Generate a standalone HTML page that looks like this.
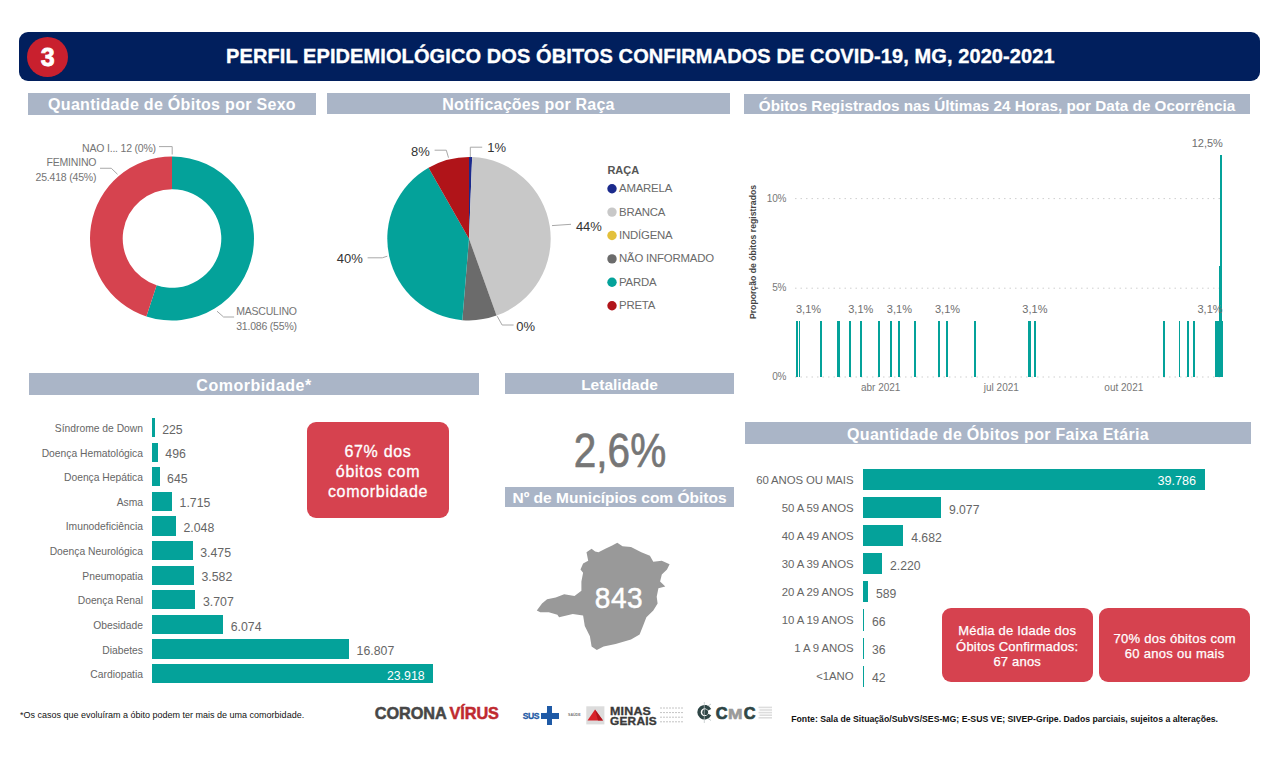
<!DOCTYPE html>
<html><head><meta charset="utf-8">
<style>
*{margin:0;padding:0;box-sizing:border-box}
html,body{width:1280px;height:759px;background:#fff;overflow:hidden;font-family:"Liberation Sans",sans-serif}
.a{position:absolute;white-space:nowrap}
svg{position:absolute;left:0;top:0}
</style></head><body>
<svg width="1280" height="759"><path d="M172.00,156.50 A82,82 0 1 1 146.39,316.40 L156.60,285.33 A49.3,49.3 0 1 0 172.00,189.20 Z" fill="#04a29a" /><path d="M146.39,316.40 A82,82 0 0 1 172.00,156.50 L172.00,189.20 A49.3,49.3 0 0 0 156.60,285.33 Z" fill="#d6434f" /><polyline points="159,146.6 172.2,146.6 172.2,154.5" fill="none" stroke="#a8a8a8" stroke-width="1"/><polyline points="100,168.25 111.25,168.25 117.5,174.25" fill="none" stroke="#a8a8a8" stroke-width="1"/><polyline points="217,311.2 223.6,317 234.1,317" fill="none" stroke="#a8a8a8" stroke-width="1"/><path d="M469,238.7 L469.00,157.00 A81.7,81.7 0 0 1 472.14,157.06 Z" fill="#1b2a8c" /><path d="M469,238.7 L472.14,157.06 A81.7,81.7 0 0 1 496.54,315.62 Z" fill="#c8c8c8" /><path d="M469,238.7 L496.54,315.62 A81.7,81.7 0 0 1 462.31,320.13 Z" fill="#6b6b6b" /><path d="M469,238.7 L462.31,320.13 A81.7,81.7 0 0 1 428.52,167.73 Z" fill="#04a29a" /><path d="M469,238.7 L428.52,167.73 A81.7,81.7 0 0 1 469.00,157.00 Z" fill="#b01419" /><polyline points="434.6,150.2 446.3,150.2 448.5,157.7" fill="none" stroke="#a8a8a8" stroke-width="1"/><polyline points="470.3,157.1 470.3,147.2 482.2,147.2" fill="none" stroke="#a8a8a8" stroke-width="1"/><polyline points="552,225.6 571,224.3" fill="none" stroke="#a8a8a8" stroke-width="1"/><polyline points="367.6,257.8 382.3,257.8 387.3,256.2" fill="none" stroke="#a8a8a8" stroke-width="1"/><polyline points="497.2,316.2 502.1,325 513.6,325" fill="none" stroke="#a8a8a8" stroke-width="1"/><circle cx="612" cy="188.70" r="4.7" fill="#1b2a8c"/><circle cx="612" cy="212.10" r="4.7" fill="#c8c8c8"/><circle cx="612" cy="235.50" r="4.7" fill="#e3c03a"/><circle cx="612" cy="258.90" r="4.7" fill="#6b6b6b"/><circle cx="612" cy="282.30" r="4.7" fill="#04a29a"/><circle cx="612" cy="305.70" r="4.7" fill="#b01419"/><line x1="795" y1="377" x2="1222" y2="377" stroke="#cfcfcf" stroke-width="1" stroke-dasharray="1.5,4"/><line x1="795" y1="288.2" x2="1222" y2="288.2" stroke="#cfcfcf" stroke-width="1" stroke-dasharray="1.5,4"/><line x1="795" y1="198.6" x2="1222" y2="198.6" stroke="#cfcfcf" stroke-width="1" stroke-dasharray="1.5,4"/><polygon points="617.3,542.8 622.5,546.3 631,547.1 641.3,552.3 649.9,555.7 653.3,561.7 661.8,560.8 669.6,564.2 667,569.4 661.8,574.5 660.1,581.4 665.3,586.5 658.4,588.2 656.7,596.8 657.6,603.6 653.3,610.5 646.4,617.3 643,625.9 639.6,634.5 631,639.6 615.6,643.9 603.6,646.4 596.8,649.9 591.6,646.4 589.9,636.2 584.8,625.9 583.1,615.6 572.8,613.9 559.1,617.3 557.4,614.8 548.8,612.2 540.3,612.2 536.8,610.5 542,603.6 547.1,599.3 555.7,597.6 564.2,594.2 574.5,595.9 581.4,590.8 581.4,581.4 583.1,572.8 580.5,569.4 583.1,563.4 588.2,560.8 586.5,552.3 591.6,548.8 595.1,551.4 598.5,552.3 605.3,548.8 612.2,545.4" fill="#999999"/><line x1="546" y1="712.5" x2="553" y2="718.8" stroke="#7aa0d0" stroke-width="0.6"/><rect x="586.3" y="706.3" width="18.1" height="18.1" fill="#dcdcdc"/><polygon points="595,709.4 603,720.5 587.5,720.5" fill="#d8232a"/><polygon points="595,709.4 603,720.5 598,720.5" fill="#b0141c"/><line x1="660" y1="708.0" x2="683" y2="708.0" stroke="#c4c4c4" stroke-width="1" stroke-dasharray="2,1"/><line x1="660" y1="712.6" x2="683" y2="712.6" stroke="#c4c4c4" stroke-width="1" stroke-dasharray="2,1"/><line x1="660" y1="717.2" x2="683" y2="717.2" stroke="#c4c4c4" stroke-width="1" stroke-dasharray="2,1"/><line x1="660" y1="721.8" x2="683" y2="721.8" stroke="#c4c4c4" stroke-width="1" stroke-dasharray="2,1"/><path d="M709.68,714.57 A5.6,5.6 0 1 1 709.68,709.83" fill="none" stroke="#2f4646" stroke-width="3.4"/><circle cx="705.2" cy="712.2" r="2.9" fill="#2f4646"/><line x1="704.3" y1="702" x2="704.3" y2="723" stroke="#b8c0c0" stroke-width="0.7"/><line x1="708" y1="706" x2="711" y2="704" stroke="#9aa" stroke-width="0.6"/><line x1="708" y1="718.5" x2="711" y2="720.5" stroke="#9aa" stroke-width="0.6"/><line x1="758.5" y1="707.4" x2="772" y2="707.4" stroke="#dddddd" stroke-width="1.6"/><line x1="759.5" y1="710.0" x2="772" y2="710.0" stroke="#dddddd" stroke-width="1.6"/><line x1="758.5" y1="712.6" x2="772" y2="712.6" stroke="#dddddd" stroke-width="1.6"/><line x1="759.5" y1="715.1999999999999" x2="772" y2="715.1999999999999" stroke="#dddddd" stroke-width="1.6"/><line x1="758.5" y1="717.8" x2="772" y2="717.8" stroke="#dddddd" stroke-width="1.6"/></svg>
<div class="a" style="left:19.00px;top:32.00px;width:1241.00px;height:48.50px;background:#011f5d;border-radius:9px"></div>
<div class="a" style="left:27px;top:37px;width:41px;height:40px;border-radius:50%;background:#c9202e"></div>
<div class="a" style="top:45.14px;font-size:25px;line-height:1;color:#fff;font-weight:700;left:-252.25px;width:600px;text-align:center;-webkit-text-stroke:0.8px #fff;">3</div>
<div class="a" style="top:46.07px;font-size:20px;line-height:1;color:#fff;font-weight:700;letter-spacing:0.1px;left:226.00px;-webkit-text-stroke:0.35px #fff;">PERFIL EPIDEMIOLÓGICO DOS ÓBITOS CONFIRMADOS DE COVID-19, MG, 2020-2021</div>
<div class="a" style="left:28.00px;top:92.50px;width:288.00px;height:22.50px;background:#aab5c7;"></div>
<div class="a" style="top:96.96px;font-size:16px;line-height:1;color:#fff;font-weight:700;letter-spacing:0.3px;left:-128.00px;width:600px;text-align:center;">Quantidade de Óbitos por Sexo</div>
<div class="a" style="left:327.00px;top:92.80px;width:403.00px;height:21.70px;background:#aab5c7;"></div>
<div class="a" style="top:96.96px;font-size:16px;line-height:1;color:#fff;font-weight:700;letter-spacing:0.2px;left:228.50px;width:600px;text-align:center;">Notificações por Raça</div>
<div class="a" style="left:744.00px;top:94.00px;width:506.00px;height:20.00px;background:#aab5c7;"></div>
<div class="a" style="top:97.79px;font-size:15.25px;line-height:1;color:#fff;font-weight:700;left:697.00px;width:600px;text-align:center;">Óbitos Registrados nas Últimas 24 Horas, por Data de Ocorrência</div>
<div class="a" style="left:29.00px;top:373.00px;width:450.00px;height:22.30px;background:#aab5c7;"></div>
<div class="a" style="top:377.76px;font-size:16px;line-height:1;color:#fff;font-weight:700;letter-spacing:0.5px;left:-46.00px;width:600px;text-align:center;">Comorbidade*</div>
<div class="a" style="left:505.00px;top:373.00px;width:229.00px;height:20.50px;background:#aab5c7;"></div>
<div class="a" style="top:376.68px;font-size:15.5px;line-height:1;color:#fff;font-weight:700;left:319.50px;width:600px;text-align:center;">Letalidade</div>
<div class="a" style="left:505.00px;top:487.00px;width:229.00px;height:19.50px;background:#aab5c7;"></div>
<div class="a" style="top:490.48px;font-size:15.5px;line-height:1;color:#fff;font-weight:700;left:319.50px;width:600px;text-align:center;">Nº de Municípios com Óbitos</div>
<div class="a" style="left:745.00px;top:422.00px;width:506.00px;height:22.20px;background:#aab5c7;"></div>
<div class="a" style="top:427.46px;font-size:16px;line-height:1;color:#fff;font-weight:700;letter-spacing:0.3px;left:698.00px;width:600px;text-align:center;">Quantidade de Óbitos por Faixa Etária</div>
<div class="a" style="top:143.01px;font-size:10.5px;line-height:1;color:#747474;font-weight:400;letter-spacing:-0.2px;right:1124.10px;">NAO I... 12 (0%)</div>
<div class="a" style="top:157.36px;font-size:10.5px;line-height:1;color:#747474;font-weight:400;letter-spacing:-0.2px;right:1183.75px;">FEMININO</div>
<div class="a" style="top:172.36px;font-size:10.5px;line-height:1;color:#747474;font-weight:400;letter-spacing:-0.2px;right:1183.75px;">25.418 (45%)</div>
<div class="a" style="top:306.31px;font-size:10.5px;line-height:1;color:#747474;font-weight:400;letter-spacing:-0.2px;left:236.20px;">MASCULINO</div>
<div class="a" style="top:320.81px;font-size:10.5px;line-height:1;color:#747474;font-weight:400;letter-spacing:-0.2px;left:236.20px;">31.086 (55%)</div>
<div class="a" style="top:144.50px;font-size:13px;line-height:1;color:#333333;font-weight:400;right:850.30px;">8%</div>
<div class="a" style="top:141.10px;font-size:13px;line-height:1;color:#333333;font-weight:400;left:487.20px;">1%</div>
<div class="a" style="top:219.90px;font-size:13px;line-height:1;color:#333333;font-weight:400;left:575.90px;">44%</div>
<div class="a" style="top:252.40px;font-size:13px;line-height:1;color:#333333;font-weight:400;right:917.30px;">40%</div>
<div class="a" style="top:320.00px;font-size:13px;line-height:1;color:#333333;font-weight:400;left:516.20px;">0%</div>
<div class="a" style="top:164.79px;font-size:11px;line-height:1;color:#555;font-weight:700;left:607.40px;">RAÇA</div>
<div class="a" style="top:183.25px;font-size:11.4px;line-height:1;color:#6a6a6a;font-weight:400;letter-spacing:-0.2px;left:619.00px;">AMARELA</div>
<div class="a" style="top:206.65px;font-size:11.4px;line-height:1;color:#6a6a6a;font-weight:400;letter-spacing:-0.2px;left:619.00px;">BRANCA</div>
<div class="a" style="top:230.05px;font-size:11.4px;line-height:1;color:#6a6a6a;font-weight:400;letter-spacing:-0.2px;left:619.00px;">INDÍGENA</div>
<div class="a" style="top:253.45px;font-size:11.4px;line-height:1;color:#6a6a6a;font-weight:400;letter-spacing:-0.2px;left:619.00px;">NÃO INFORMADO</div>
<div class="a" style="top:276.85px;font-size:11.4px;line-height:1;color:#6a6a6a;font-weight:400;letter-spacing:-0.2px;left:619.00px;">PARDA</div>
<div class="a" style="top:300.25px;font-size:11.4px;line-height:1;color:#6a6a6a;font-weight:400;letter-spacing:-0.2px;left:619.00px;">PRETA</div>
<div class="a" style="top:372.14px;font-size:10px;line-height:1;color:#777777;font-weight:400;letter-spacing:-0.2px;right:493.80px;">0%</div>
<div class="a" style="top:283.34px;font-size:10px;line-height:1;color:#777777;font-weight:400;letter-spacing:-0.2px;right:493.80px;">5%</div>
<div class="a" style="top:193.73px;font-size:10px;line-height:1;color:#777777;font-weight:400;letter-spacing:-0.2px;right:493.80px;">10%</div>
<div class="a" style="left:752.5px;top:251.7px;font-size:8.7px;line-height:1;color:#444;font-weight:700;transform:translate(-50%,-50%) rotate(-90deg);">Proporção de óbitos registrados</div>
<div class="a" style="left:796.05px;top:321.00px;width:1.70px;height:56.00px;background:#04a29a;"></div>
<div class="a" style="left:798.65px;top:321.00px;width:1.70px;height:56.00px;background:#04a29a;"></div>
<div class="a" style="left:819.85px;top:321.00px;width:1.70px;height:56.00px;background:#04a29a;"></div>
<div class="a" style="left:849.15px;top:321.00px;width:1.70px;height:56.00px;background:#04a29a;"></div>
<div class="a" style="left:859.95px;top:321.00px;width:1.70px;height:56.00px;background:#04a29a;"></div>
<div class="a" style="left:878.35px;top:321.00px;width:1.70px;height:56.00px;background:#04a29a;"></div>
<div class="a" style="left:890.25px;top:321.00px;width:1.70px;height:56.00px;background:#04a29a;"></div>
<div class="a" style="left:898.25px;top:321.00px;width:1.70px;height:56.00px;background:#04a29a;"></div>
<div class="a" style="left:914.35px;top:321.00px;width:1.70px;height:56.00px;background:#04a29a;"></div>
<div class="a" style="left:938.05px;top:321.00px;width:1.70px;height:56.00px;background:#04a29a;"></div>
<div class="a" style="left:946.35px;top:321.00px;width:1.70px;height:56.00px;background:#04a29a;"></div>
<div class="a" style="left:974.05px;top:321.00px;width:1.70px;height:56.00px;background:#04a29a;"></div>
<div class="a" style="left:1034.05px;top:321.00px;width:1.70px;height:56.00px;background:#04a29a;"></div>
<div class="a" style="left:1162.95px;top:321.00px;width:1.70px;height:56.00px;background:#04a29a;"></div>
<div class="a" style="left:1178.65px;top:321.00px;width:1.70px;height:56.00px;background:#04a29a;"></div>
<div class="a" style="left:1186.95px;top:321.00px;width:1.70px;height:56.00px;background:#04a29a;"></div>
<div class="a" style="left:1193.45px;top:321.00px;width:1.70px;height:56.00px;background:#04a29a;"></div>
<div class="a" style="left:837.00px;top:321.00px;width:3.00px;height:56.00px;background:#04a29a;"></div>
<div class="a" style="left:1028.00px;top:321.00px;width:3.00px;height:56.00px;background:#04a29a;"></div>
<div class="a" style="left:1215.00px;top:321.00px;width:8.00px;height:56.00px;background:#04a29a;"></div>
<div class="a" style="left:1219.00px;top:266.00px;width:2.00px;height:111.00px;background:#04a29a;"></div>
<div class="a" style="left:1220.00px;top:155.00px;width:2.00px;height:222.00px;background:#04a29a;"></div>
<div class="a" style="top:304.44px;font-size:11px;line-height:1;color:#6e6e6e;font-weight:400;left:508.50px;width:600px;text-align:center;">3,1%</div>
<div class="a" style="top:304.44px;font-size:11px;line-height:1;color:#6e6e6e;font-weight:400;left:560.80px;width:600px;text-align:center;">3,1%</div>
<div class="a" style="top:304.44px;font-size:11px;line-height:1;color:#6e6e6e;font-weight:400;left:599.40px;width:600px;text-align:center;">3,1%</div>
<div class="a" style="top:304.44px;font-size:11px;line-height:1;color:#6e6e6e;font-weight:400;left:647.50px;width:600px;text-align:center;">3,1%</div>
<div class="a" style="top:304.44px;font-size:11px;line-height:1;color:#6e6e6e;font-weight:400;left:734.90px;width:600px;text-align:center;">3,1%</div>
<div class="a" style="top:304.44px;font-size:11px;line-height:1;color:#6e6e6e;font-weight:400;left:910.00px;width:600px;text-align:center;">3,1%</div>
<div class="a" style="top:138.29px;font-size:11px;line-height:1;color:#6e6e6e;font-weight:400;left:907.30px;width:600px;text-align:center;">12,5%</div>
<div class="a" style="top:383.04px;font-size:10px;line-height:1;color:#777777;font-weight:400;left:580.70px;width:600px;text-align:center;">abr 2021</div>
<div class="a" style="top:383.04px;font-size:10px;line-height:1;color:#777777;font-weight:400;left:701.30px;width:600px;text-align:center;">jul 2021</div>
<div class="a" style="top:383.04px;font-size:10px;line-height:1;color:#777777;font-weight:400;left:823.80px;width:600px;text-align:center;">out 2021</div>
<div class="a" style="left:152.00px;top:417.90px;width:2.64px;height:19.20px;background:#04a29a;"></div>
<div class="a" style="top:423.98px;font-size:10.3px;line-height:1;color:#666;font-weight:400;right:1137.00px;">Síndrome de Down</div>
<div class="a" style="top:423.59px;font-size:12.3px;line-height:1;color:#666;font-weight:400;left:162.14px;">225</div>
<div class="a" style="left:152.00px;top:442.52px;width:5.82px;height:19.20px;background:#04a29a;"></div>
<div class="a" style="top:448.60px;font-size:10.3px;line-height:1;color:#666;font-weight:400;right:1137.00px;">Doença Hematológica</div>
<div class="a" style="top:448.21px;font-size:12.3px;line-height:1;color:#666;font-weight:400;left:165.32px;">496</div>
<div class="a" style="left:152.00px;top:467.14px;width:7.56px;height:19.20px;background:#04a29a;"></div>
<div class="a" style="top:473.22px;font-size:10.3px;line-height:1;color:#666;font-weight:400;right:1137.00px;">Doença Hepática</div>
<div class="a" style="top:472.83px;font-size:12.3px;line-height:1;color:#666;font-weight:400;left:167.06px;">645</div>
<div class="a" style="left:152.00px;top:491.76px;width:20.11px;height:19.20px;background:#04a29a;"></div>
<div class="a" style="top:497.84px;font-size:10.3px;line-height:1;color:#666;font-weight:400;right:1137.00px;">Asma</div>
<div class="a" style="top:497.45px;font-size:12.3px;line-height:1;color:#666;font-weight:400;left:179.61px;">1.715</div>
<div class="a" style="left:152.00px;top:516.38px;width:24.02px;height:19.20px;background:#04a29a;"></div>
<div class="a" style="top:522.46px;font-size:10.3px;line-height:1;color:#666;font-weight:400;right:1137.00px;">Imunodeficiência</div>
<div class="a" style="top:522.07px;font-size:12.3px;line-height:1;color:#666;font-weight:400;left:183.52px;">2.048</div>
<div class="a" style="left:152.00px;top:541.00px;width:40.75px;height:19.20px;background:#04a29a;"></div>
<div class="a" style="top:547.08px;font-size:10.3px;line-height:1;color:#666;font-weight:400;right:1137.00px;">Doença Neurológica</div>
<div class="a" style="top:546.69px;font-size:12.3px;line-height:1;color:#666;font-weight:400;left:200.25px;">3.475</div>
<div class="a" style="left:152.00px;top:565.62px;width:42.01px;height:19.20px;background:#04a29a;"></div>
<div class="a" style="top:571.70px;font-size:10.3px;line-height:1;color:#666;font-weight:400;right:1137.00px;">Pneumopatia</div>
<div class="a" style="top:571.31px;font-size:12.3px;line-height:1;color:#666;font-weight:400;left:201.51px;">3.582</div>
<div class="a" style="left:152.00px;top:590.24px;width:43.47px;height:19.20px;background:#04a29a;"></div>
<div class="a" style="top:596.32px;font-size:10.3px;line-height:1;color:#666;font-weight:400;right:1137.00px;">Doença Renal</div>
<div class="a" style="top:595.93px;font-size:12.3px;line-height:1;color:#666;font-weight:400;left:202.97px;">3.707</div>
<div class="a" style="left:152.00px;top:614.86px;width:71.23px;height:19.20px;background:#04a29a;"></div>
<div class="a" style="top:620.94px;font-size:10.3px;line-height:1;color:#666;font-weight:400;right:1137.00px;">Obesidade</div>
<div class="a" style="top:620.55px;font-size:12.3px;line-height:1;color:#666;font-weight:400;left:230.73px;">6.074</div>
<div class="a" style="left:152.00px;top:639.48px;width:197.11px;height:19.20px;background:#04a29a;"></div>
<div class="a" style="top:645.56px;font-size:10.3px;line-height:1;color:#666;font-weight:400;right:1137.00px;">Diabetes</div>
<div class="a" style="top:645.17px;font-size:12.3px;line-height:1;color:#666;font-weight:400;left:356.61px;">16.807</div>
<div class="a" style="left:152.00px;top:664.10px;width:280.50px;height:19.20px;background:#04a29a;"></div>
<div class="a" style="top:670.18px;font-size:10.3px;line-height:1;color:#666;font-weight:400;right:1137.00px;">Cardiopatia</div>
<div class="a" style="top:669.79px;font-size:12.3px;line-height:1;color:#fff;font-weight:400;right:855.40px;">23.918</div>
<div class="a" style="left:307.00px;top:422.30px;width:142.00px;height:95.30px;background:#d6424f;border-radius:9px"></div>
<div class="a" style="top:443.96px;font-size:16px;line-height:1;color:#fff;font-weight:400;letter-spacing:0.7px;left:78.00px;width:600px;text-align:center;-webkit-text-stroke:0.3px #fff;">67% dos</div>
<div class="a" style="top:464.16px;font-size:16px;line-height:1;color:#fff;font-weight:400;letter-spacing:0.7px;left:78.00px;width:600px;text-align:center;-webkit-text-stroke:0.3px #fff;">óbitos com</div>
<div class="a" style="top:484.36px;font-size:16px;line-height:1;color:#fff;font-weight:400;letter-spacing:0.7px;left:78.00px;width:600px;text-align:center;-webkit-text-stroke:0.3px #fff;">comorbidade</div>
<div class="a" style="top:426.24px;font-size:48.5px;line-height:1;color:#767676;font-weight:400;left:319.50px;width:600px;text-align:center;transform:scaleX(0.835);-webkit-text-stroke:0.7px #767676;">2,6%</div>
<div class="a" style="top:582.93px;font-size:29.5px;line-height:1;color:#fff;font-weight:400;letter-spacing:0.6px;left:319.00px;width:600px;text-align:center;-webkit-text-stroke:0.5px #fff;transform:scaleX(0.95);">843</div>
<div class="a" style="left:863.00px;top:468.90px;width:341.60px;height:21.20px;background:#04a29a;"></div>
<div class="a" style="top:474.55px;font-size:11.4px;line-height:1;color:#666;font-weight:400;letter-spacing:-0.1px;right:426.60px;">60 ANOS OU MAIS</div>
<div class="a" style="top:474.73px;font-size:12.6px;line-height:1;color:#fff;font-weight:400;right:84.00px;">39.786</div>
<div class="a" style="left:863.00px;top:497.00px;width:77.93px;height:21.20px;background:#04a29a;"></div>
<div class="a" style="top:502.65px;font-size:11.4px;line-height:1;color:#666;font-weight:400;letter-spacing:-0.1px;right:426.60px;">50 A 59 ANOS</div>
<div class="a" style="top:503.67px;font-size:12.2px;line-height:1;color:#666;font-weight:400;left:948.93px;">9.077</div>
<div class="a" style="left:863.00px;top:525.10px;width:40.20px;height:21.20px;background:#04a29a;"></div>
<div class="a" style="top:530.75px;font-size:11.4px;line-height:1;color:#666;font-weight:400;letter-spacing:-0.1px;right:426.60px;">40 A 49 ANOS</div>
<div class="a" style="top:531.77px;font-size:12.2px;line-height:1;color:#666;font-weight:400;left:911.20px;">4.682</div>
<div class="a" style="left:863.00px;top:553.20px;width:19.06px;height:21.20px;background:#04a29a;"></div>
<div class="a" style="top:558.85px;font-size:11.4px;line-height:1;color:#666;font-weight:400;letter-spacing:-0.1px;right:426.60px;">30 A 39 ANOS</div>
<div class="a" style="top:559.87px;font-size:12.2px;line-height:1;color:#666;font-weight:400;left:890.06px;">2.220</div>
<div class="a" style="left:863.00px;top:581.30px;width:5.06px;height:21.20px;background:#04a29a;"></div>
<div class="a" style="top:586.95px;font-size:11.4px;line-height:1;color:#666;font-weight:400;letter-spacing:-0.1px;right:426.60px;">20 A 29 ANOS</div>
<div class="a" style="top:587.97px;font-size:12.2px;line-height:1;color:#666;font-weight:400;left:876.06px;">589</div>
<div class="a" style="left:863.00px;top:609.40px;width:1.10px;height:21.20px;background:#04a29a;"></div>
<div class="a" style="top:615.05px;font-size:11.4px;line-height:1;color:#666;font-weight:400;letter-spacing:-0.1px;right:426.60px;">10 A 19 ANOS</div>
<div class="a" style="top:616.07px;font-size:12.2px;line-height:1;color:#666;font-weight:400;left:872.10px;">66</div>
<div class="a" style="left:863.00px;top:637.50px;width:1.10px;height:21.20px;background:#04a29a;"></div>
<div class="a" style="top:643.15px;font-size:11.4px;line-height:1;color:#666;font-weight:400;letter-spacing:-0.1px;right:426.60px;">1 A 9 ANOS</div>
<div class="a" style="top:644.17px;font-size:12.2px;line-height:1;color:#666;font-weight:400;left:872.10px;">36</div>
<div class="a" style="left:863.00px;top:665.60px;width:1.10px;height:21.20px;background:#04a29a;"></div>
<div class="a" style="top:671.25px;font-size:11.4px;line-height:1;color:#666;font-weight:400;letter-spacing:-0.1px;right:426.60px;">&lt;1ANO</div>
<div class="a" style="top:672.27px;font-size:12.2px;line-height:1;color:#666;font-weight:400;left:872.10px;">42</div>
<div class="a" style="left:941.60px;top:607.90px;width:151.30px;height:74.20px;background:#d6424f;border-radius:9px"></div>
<div class="a" style="left:1098.90px;top:607.90px;width:151.50px;height:74.20px;background:#d6424f;border-radius:9px"></div>
<div class="a" style="top:624.00px;font-size:13px;line-height:1;color:#fff;font-weight:400;letter-spacing:0.2px;left:717.25px;width:600px;text-align:center;-webkit-text-stroke:0.25px #fff;">Média de Idade dos</div>
<div class="a" style="top:639.50px;font-size:13px;line-height:1;color:#fff;font-weight:400;letter-spacing:0.2px;left:717.25px;width:600px;text-align:center;-webkit-text-stroke:0.25px #fff;">Óbitos Confirmados:</div>
<div class="a" style="top:655.00px;font-size:13px;line-height:1;color:#fff;font-weight:400;letter-spacing:0.2px;left:717.25px;width:600px;text-align:center;-webkit-text-stroke:0.25px #fff;">67 anos</div>
<div class="a" style="top:631.70px;font-size:13px;line-height:1;color:#fff;font-weight:400;letter-spacing:0.3px;left:874.65px;width:600px;text-align:center;-webkit-text-stroke:0.25px #fff;">70% dos óbitos com</div>
<div class="a" style="top:647.20px;font-size:13px;line-height:1;color:#fff;font-weight:400;letter-spacing:0.3px;left:874.65px;width:600px;text-align:center;-webkit-text-stroke:0.25px #fff;">60 anos ou mais</div>
<div class="a" style="top:710.68px;font-size:9px;line-height:1;color:#111;font-weight:400;left:20.00px;">*Os casos que evoluíram a óbito podem ter mais de uma comorbidade.</div>
<div class="a" style="top:715.44px;font-size:8.7px;line-height:1;color:#111;font-weight:700;left:791.25px;">Fonte: Sala de Situação/SubVS/SES-MG; E-SUS VE; SIVEP-Gripe. Dados parciais, sujeitos a alterações.</div>
<div class="a" style="top:705.20px;font-size:16.3px;line-height:1;color:#474747;font-weight:700;letter-spacing:-0.1px;left:374.80px;-webkit-text-stroke:0.5px #474747;">CORONA</div>
<div class="a" style="top:705.20px;font-size:16.3px;line-height:1;color:#bf2a30;font-weight:700;letter-spacing:-0.1px;left:449.60px;-webkit-text-stroke:0.5px #bf2a30;">VÍRUS</div>
<div class="a" style="top:711.62px;font-size:8.6px;line-height:1;color:#1f5aa6;font-weight:700;letter-spacing:-0.5px;left:522.80px;-webkit-text-stroke:0.3px #1f5aa6;">SUS</div>
<div class="a" style="left:546.90px;top:706.30px;width:5.60px;height:18.50px;background:#1f5aa6;"></div>
<div class="a" style="left:541.00px;top:712.50px;width:17.80px;height:6.30px;background:#1f5aa6;"></div>
<div class="a" style="top:713.95px;font-size:3.6px;line-height:1;color:#777;font-weight:700;left:568.00px;">SAÚDE</div>
<div class="a" style="top:705.61px;font-size:10.5px;line-height:1;color:#3a3a3a;font-weight:700;letter-spacing:0.2px;left:609.80px;transform:scaleX(1.18);transform-origin:0 0;-webkit-text-stroke:0.3px #3a3a3a;">MINAS</div>
<div class="a" style="top:715.91px;font-size:10.5px;line-height:1;color:#3a3a3a;font-weight:700;letter-spacing:0.2px;left:609.80px;transform:scaleX(1.13);transform-origin:0 0;-webkit-text-stroke:0.3px #3a3a3a;">GERAIS</div>
<div class="a" style="top:705.10px;font-size:16.3px;line-height:1;color:#2f4646;font-weight:700;left:715.80px;-webkit-text-stroke:0.7px #2f4646;">C</div>
<div class="a" style="top:706.63px;font-size:14.5px;line-height:1;color:#9a9a9a;font-weight:700;left:728.30px;transform:scaleX(1.2);transform-origin:0 0;-webkit-text-stroke:0.6px #9a9a9a;">M</div>
<div class="a" style="top:705.10px;font-size:16.3px;line-height:1;color:#2f4646;font-weight:700;left:743.80px;-webkit-text-stroke:0.7px #2f4646;">C</div>
</body></html>
